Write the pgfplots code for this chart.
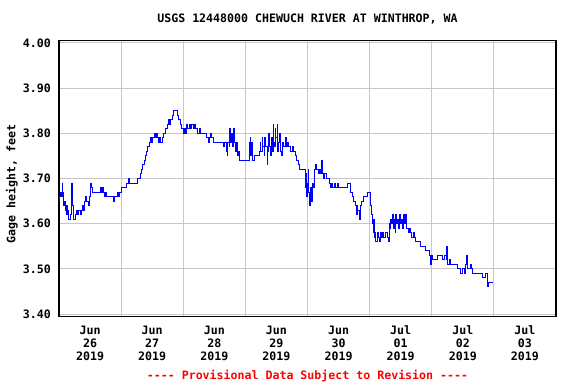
\documentclass[border=0pt]{standalone}
\usepackage{fontspec}
\newfontfamily\usgs{DejaVu Sans Mono}
\usepackage{pgfplots}
\pgfplotsset{compat=1.18}
\newcommand{\uf}{\usgs\bfseries\fontsize{11.6bp}{13bp}\selectfont}
\pgfplotstableread{
d v
0.000 3.65
0.010 3.66
0.025 3.67
0.040 3.66
0.050 3.69
0.060 3.67
0.070 3.66
0.080 3.64
0.090 3.65
0.100 3.63
0.110 3.64
0.120 3.62
0.130 3.64
0.140 3.62
0.150 3.63
0.160 3.61
0.180 3.62
0.195 3.69
0.210 3.65
0.220 3.64
0.230 3.62
0.240 3.61
0.260 3.62
0.280 3.63
0.300 3.62
0.320 3.63
0.340 3.62
0.360 3.63
0.380 3.64
0.400 3.63
0.410 3.65
0.430 3.66
0.450 3.65
0.470 3.64
0.490 3.66
0.510 3.69
0.525 3.68
0.540 3.67
0.660 3.67
0.670 3.68
0.690 3.67
0.700 3.68
0.715 3.67
0.730 3.66
0.750 3.67
0.770 3.66
0.860 3.66
0.870 3.65
0.890 3.66
0.930 3.66
0.945 3.67
0.960 3.66
0.980 3.67
1.000 3.68
1.060 3.68
1.080 3.69
1.120 3.70
1.140 3.69
1.250 3.69
1.270 3.70
1.310 3.71
1.330 3.72
1.350 3.73
1.370 3.74
1.390 3.75
1.410 3.76
1.430 3.77
1.450 3.78
1.470 3.79
1.490 3.78
1.510 3.79
1.530 3.80
1.550 3.79
1.570 3.80
1.580 3.79
1.600 3.78
1.620 3.79
1.640 3.78
1.660 3.79
1.680 3.80
1.710 3.81
1.740 3.82
1.760 3.83
1.780 3.82
1.800 3.83
1.820 3.84
1.840 3.85
1.900 3.84
1.920 3.83
1.950 3.82
1.975 3.81
2.000 3.80
2.020 3.81
2.040 3.80
2.050 3.82
2.070 3.81
2.100 3.82
2.120 3.81
2.140 3.82
2.160 3.81
2.180 3.82
2.200 3.81
2.230 3.80
2.260 3.81
2.280 3.80
2.340 3.80
2.370 3.79
2.400 3.78
2.420 3.79
2.440 3.80
2.460 3.79
2.480 3.78
2.620 3.78
2.640 3.77
2.670 3.78
2.700 3.76
2.710 3.75
2.720 3.78
2.740 3.77
2.750 3.81
2.760 3.78
2.780 3.80
2.790 3.77
2.810 3.81
2.820 3.78
2.840 3.76
2.850 3.78
2.870 3.75
2.890 3.76
2.910 3.74
3.050 3.74
3.060 3.78
3.070 3.76
3.080 3.79
3.090 3.75
3.100 3.78
3.120 3.74
3.140 3.75
3.200 3.75
3.220 3.76
3.240 3.78
3.250 3.76
3.270 3.79
3.280 3.77
3.300 3.75
3.310 3.79
3.330 3.77
3.350 3.73
3.360 3.76
3.380 3.80
3.390 3.77
3.400 3.75
3.420 3.79
3.430 3.76
3.450 3.82
3.460 3.78
3.470 3.77
3.480 3.81
3.490 3.79
3.510 3.82
3.520 3.76
3.530 3.78
3.550 3.80
3.560 3.76
3.580 3.75
3.600 3.78
3.620 3.77
3.650 3.79
3.660 3.77
3.680 3.78
3.700 3.77
3.720 3.76
3.760 3.77
3.780 3.76
3.800 3.75
3.830 3.74
3.850 3.73
3.870 3.72
3.940 3.72
3.960 3.70
3.970 3.68
3.980 3.71
3.990 3.66
4.000 3.69
4.010 3.72
4.020 3.67
4.040 3.64
4.050 3.68
4.060 3.65
4.080 3.69
4.100 3.68
4.110 3.72
4.130 3.73
4.150 3.72
4.170 3.71
4.190 3.72
4.210 3.71
4.230 3.74
4.240 3.71
4.260 3.70
4.280 3.71
4.300 3.70
4.330 3.70
4.350 3.69
4.370 3.68
4.390 3.69
4.410 3.68
4.430 3.69
4.450 3.68
4.480 3.69
4.500 3.68
4.600 3.68
4.650 3.69
4.690 3.67
4.720 3.66
4.740 3.65
4.780 3.64
4.790 3.62
4.800 3.64
4.810 3.63
4.830 3.61
4.850 3.64
4.870 3.65
4.900 3.66
4.960 3.67
5.010 3.66
5.020 3.64
5.030 3.62
5.050 3.60
5.060 3.58
5.070 3.61
5.080 3.57
5.090 3.58
5.100 3.56
5.120 3.58
5.140 3.57
5.160 3.56
5.180 3.58
5.190 3.57
5.210 3.58
5.230 3.57
5.260 3.58
5.280 3.57
5.300 3.56
5.320 3.60
5.330 3.59
5.340 3.61
5.360 3.60
5.370 3.62
5.380 3.59
5.400 3.61
5.410 3.58
5.420 3.62
5.440 3.60
5.450 3.61
5.470 3.59
5.480 3.62
5.500 3.60
5.510 3.61
5.530 3.59
5.550 3.62
5.560 3.60
5.580 3.62
5.600 3.59
5.620 3.58
5.640 3.59
5.650 3.58
5.680 3.57
5.700 3.58
5.720 3.57
5.740 3.56
5.820 3.55
5.900 3.54
5.960 3.53
5.980 3.51
6.000 3.53
6.020 3.52
6.100 3.53
6.180 3.52
6.200 3.53
6.230 3.52
6.240 3.55
6.250 3.53
6.260 3.51
6.280 3.52
6.300 3.51
6.400 3.51
6.420 3.50
6.470 3.49
6.500 3.50
6.520 3.49
6.550 3.51
6.560 3.53
6.570 3.50
6.600 3.50
6.620 3.51
6.640 3.50
6.660 3.49
6.820 3.48
6.870 3.49
6.900 3.49
6.905 3.46
6.920 3.47
6.980 3.47
}\gage
\begin{document}
\begin{tikzpicture}
\path[use as bounding box] (0,0) rectangle (576bp,384bp);
\begin{axis}[
  at={(59bp,67.5bp)}, anchor=south west,
  scale only axis, width=497bp, height=276bp,
  xmin=0, xmax=8, ymin=3.3945, ymax=4.0055,
  xtick={0.5,1.5,2.5,3.5,4.5,5.5,6.5,7.5},
  xticklabels={{Jun\\26\\2019},{Jun\\27\\2019},{Jun\\28\\2019},{Jun\\29\\2019},{Jun\\30\\2019},{Jul\\01\\2019},{Jul\\02\\2019},{Jul\\03\\2019}},
  minor xtick={1,2,3,4,5,6,7},
  xminorgrids=true, xmajorgrids=false,
  ytick={3.4,3.5,3.6,3.7,3.8,3.9,4.0},
  ymajorgrids=true,
  grid style={draw=black!22, line width=1bp},
  minor grid style={draw=black!22, line width=1bp},
  major tick length=0pt, minor tick length=0pt,
  axis line style={line width=1.2bp},
  /pgf/number format/assume math mode=true,
  yticklabel={\pgfmathprintnumber[fixed,fixed zerofill,precision=2]{\tick}},
  tick label style={font=\uf},
  xticklabel style={align=center, anchor=north, inner sep=0pt, yshift=-9bp},
  yticklabel style={anchor=east, inner sep=0pt, xshift=-8bp},
  title={USGS 12448000 CHEWUCH RIVER AT WINTHROP, WA},
  title style={font=\uf, at={(axis description cs:0.5,1)}, anchor=base, inner sep=0pt, yshift=12.5bp},
  ylabel={Gage height, feet},
  ylabel style={font=\uf, at={(axis description cs:-0.0946,0.48)}, anchor=center},
  xlabel={---- Provisional Data Subject to Revision ----},
  xlabel style={font=\uf, text=red, at={(axis description cs:0.5,0)}, anchor=base, inner sep=0pt, yshift=-63bp},
]
\addplot[const plot, color=blue, line width=1bp] table[x=d, y=v] {\gage};
\end{axis}
\end{tikzpicture}
\end{document}
